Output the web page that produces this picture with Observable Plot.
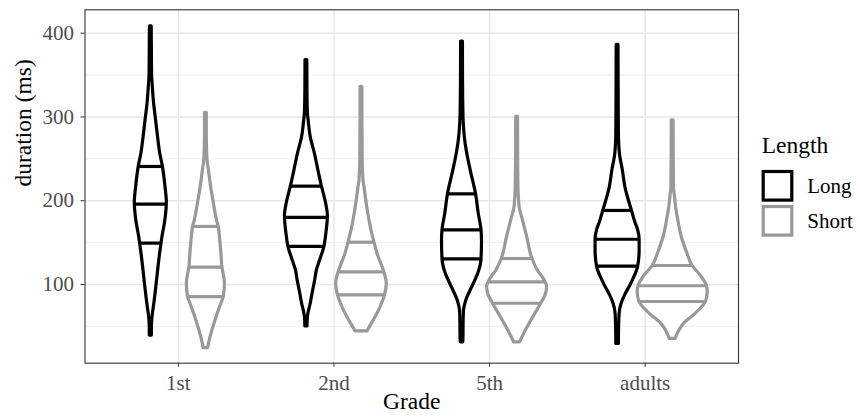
<!DOCTYPE html>
<html><head><meta charset="utf-8">
<script src="https://cdn.jsdelivr.net/npm/d3@7"></script>
<script src="https://cdn.jsdelivr.net/npm/@observablehq/plot@0.6"></script>
<style>
body{margin:0;background:#fff;}
#chart{width:860px;height:419px;}
svg text{font-family:"Liberation Serif","Times New Roman",serif;}
g[aria-label="y-axis tick label"], g[aria-label="x-axis tick label"]{fill:#4d4d4d;}
g[aria-label="y-axis tick"], g[aria-label="x-axis tick"]{stroke:#333333;}
</style></head><body><div id="chart"></div>
<script>
// ---- data ----
const grades = ["1st", "2nd", "5th", "adults"];
const lengths = ["Long", "Short"];
const yTicks = [100, 200, 300, 400];
const yMinorTicks = [50, 150, 250, 350];
const legendTitle = "Length";
const xTitle = "Grade";
const yTitle = "duration (ms)";

// violin profiles: [duration, relative density (1 = widest violin)]
const long1st = [[408,0.026],[380,0.03],[350,0.037],[336,0.057],[316,0.094],[296,0.15],[276,0.206],[256,0.27],[241,0.343],[216,0.42],[198,0.457],[176,0.414],[156,0.33],[149,0.306],[137,0.266],[117,0.21],[97,0.157],[77,0.1],[62,0.05],[50,0.03],[39,0.03]];
const short1st = [[305,0.026],[280,0.026],[260,0.034],[244,0.057],[236,0.086],[216,0.15],[196,0.23],[176,0.32],[169,0.366],[157,0.4],[137,0.443],[121,0.47],[101,0.543],[86,0.514],[75,0.423],[65,0.337],[57,0.274],[45,0.186],[35,0.12],[24,0.063]];
const long2nd = [[368,0.026],[330,0.03],[304,0.043],[296,0.063],[276,0.123],[256,0.243],[236,0.343],[217,0.443],[196,0.566],[182,0.614],[161,0.571],[145,0.514],[128,0.386],[117,0.3],[105,0.251],[90,0.18],[77,0.123],[65,0.057],[58,0.037],[50,0.031]];
const short2nd = [[336,0.026],[300,0.026],[250,0.034],[224,0.057],[216,0.086],[196,0.15],[176,0.23],[160,0.31],[150,0.371],[135,0.471],[116,0.643],[101,0.723],[87,0.671],[77,0.586],[65,0.457],[57,0.351],[50,0.251],[44,0.171]];
const long5th = [[390,0.026],[340,0.03],[300,0.043],[288,0.057],[276,0.08],[256,0.15],[236,0.249],[208,0.4],[184,0.48],[165,0.557],[152,0.571],[130,0.557],[113,0.466],[97,0.294],[81,0.123],[69,0.057],[55,0.046],[40,0.043],[31,0.037]];
const short5th = [[300,0.026],[250,0.03],[210,0.043],[200,0.057],[192,0.074],[176,0.171],[157,0.286],[131,0.434],[117,0.586],[104,0.8],[97,0.857],[87,0.814],[78,0.7],[57,0.409],[41,0.2],[31,0.086]];
const longAdults = [[386,0.026],[330,0.03],[280,0.037],[264,0.051],[256,0.066],[236,0.15],[216,0.223],[188,0.409],[175,0.5],[165,0.586],[154,0.629],[140,0.629],[121,0.586],[105,0.437],[97,0.343],[87,0.214],[77,0.114],[65,0.057],[50,0.043],[29,0.037]];
const shortAdults = [[296,0.026],[250,0.03],[215,0.037],[208,0.057],[196,0.086],[176,0.163],[157,0.257],[137,0.42],[123,0.557],[109,0.829],[99,0.971],[91,1.0],[80,0.957],[65,0.657],[53,0.323],[41,0.143],[35,0.086]];

// quartiles (25%, 50%, 75%) per grade
const quartilesLong = [[149.4,196,240.9],[145.5,180.2,217.4],[130.6,165.2,208.2],[121.9,154,188.4]];
const quartilesShort = [[85.6,120.7,169.3],[87.5,115,150.5],[77.6,103.2,131],[79.7,98.5,122.7]];

const profilesLong = [long1st, long2nd, long5th, longAdults];
const profilesShort = [short1st, short2nd, short5th, shortAdults];

// ---- layout / style ----
const W = 860, H = 419;
const panel = {left: 84.5, top: 9.3, right: 738, bottom: 362.7};
const dodge = {Long: -0.177, Short: 0.177};
const maxHalf = 0.225;
const colorRange = ["#000000", "#999999"];
const lineW = 3.2;

function densAt(prof, v) {
  for (let k = 0; k < prof.length - 1; k++) {
    const [v0, d0] = prof[k], [v1, d1] = prof[k + 1];
    if ((v <= v0 && v >= v1) || (v >= v0 && v <= v1)) {
      const t = (v - v0) / (v1 - v0);
      return d0 + t * (d1 - d0);
    }
  }
  return 0;
}

const rows = [], qrows = [];
grades.forEach((g, i) => {
  lengths.forEach(l => {
    const prof = (l === "Long" ? profilesLong : profilesShort)[i];
    const quart = (l === "Long" ? quartilesLong : quartilesShort)[i];
    const c = i + 1 + dodge[l];
    prof.forEach(([v, d]) => rows.push({id: g + l, grade: g, length: l, duration: v, lo: c - d * maxHalf, hi: c + d * maxHalf}));
    quart.forEach(q => {
      const d = densAt(prof, q);
      qrows.push({id: g + l, length: l, duration: q, lo: c - d * maxHalf, hi: c + d * maxHalf});
    });
  });
});

const chart = Plot.plot({
  width: W, height: H,
  marginLeft: panel.left, marginTop: panel.top,
  marginRight: W - panel.right, marginBottom: H - panel.bottom,
  style: {fontFamily: "Liberation Serif, serif", fontSize: "21px", background: "#ffffff", overflow: "visible", color: "#000"},
  x: {domain: [0.4, 4.6], axis: null},
  y: {domain: [6.05, 427.9], axis: null},
  color: {domain: lengths, range: colorRange},
  marks: [
    Plot.gridY(yMinorTicks, {stroke: "#EBEBEB", strokeOpacity: 1, strokeWidth: 0.8}),
    Plot.gridY(yTicks, {stroke: "#E6E6E6", strokeOpacity: 1, strokeWidth: 1.4}),
    Plot.gridX([1, 2, 3, 4], {stroke: "#E6E6E6", strokeOpacity: 1, strokeWidth: 1.4}),
    Plot.areaX(rows, {y: "duration", x1: "lo", x2: "hi", z: "id", curve: "monotone-y", fill: "white", stroke: "length", strokeWidth: lineW, strokeLinejoin: "round"}),
    Plot.ruleY(qrows, {y: "duration", x1: "lo", x2: "hi", stroke: "length", strokeWidth: lineW}),
    Plot.frame({stroke: "#333333", strokeWidth: 1.1}),
    Plot.axisY(yTicks, {tickSize: 4, tickPadding: 7, label: null, fontSize: 21}),
    Plot.axisX([1, 2, 3, 4], {tickSize: 4, tickPadding: 8, label: null, fontSize: 21, tickFormat: d => grades[d - 1]}),
    Plot.text([yTitle], {text: d => d, frameAnchor: "left", dx: -61.2, rotate: -90, fontSize: 23.5, fill: "#000"}),
    Plot.text([xTitle], {text: d => d, frameAnchor: "bottom", dy: 46, fontSize: 23.5, fill: "#000"})
  ]
});

// legend
const svg = d3.select(chart);
const lg = svg.append("g").attr("aria-label", "legend").attr("text-anchor", "start");
lg.append("text").attr("x", 761.7).attr("y", 153.3).attr("font-size", 23.5).attr("fill", "#000").text(legendTitle);
lengths.forEach((l, k) => {
  const y0 = 171.5 + k * 35;
  lg.append("rect").attr("x", 763.2).attr("y", y0).attr("width", 28.6).attr("height", 28.6)
    .attr("fill", "white").attr("stroke", colorRange[k]).attr("stroke-width", 3.2);
  lg.append("text").attr("x", 807.3).attr("y", y0 + 14.3 + 7.3).attr("font-size", 21).attr("fill", "#000").text(l);
});

document.getElementById("chart").appendChild(chart);
</script>
</body></html>
